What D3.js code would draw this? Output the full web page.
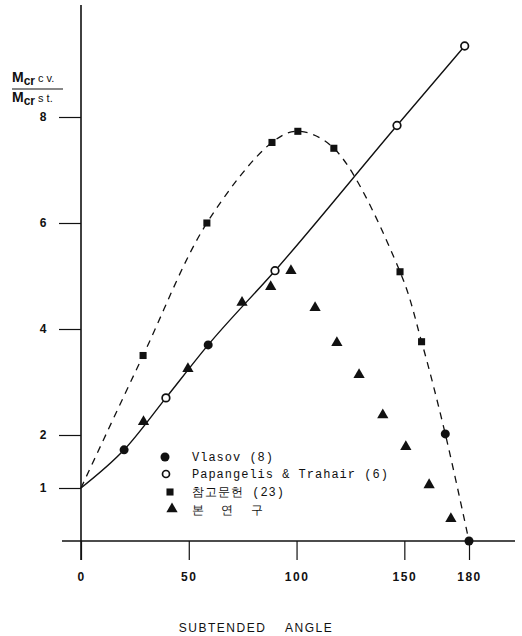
<!DOCTYPE html>
<html>
<head>
<meta charset="utf-8">
<script src="https://cdn.jsdelivr.net/npm/d3@7"></script>
<style>
    body { margin: 0; background: #fff; }
    svg { display: block; }
    .tick text { font-family: "Liberation Sans", Arial, sans-serif; font-weight: bold; font-size: 12px; fill: #111; }
    .legend text { font-family: "Liberation Mono", "DejaVu Sans Mono", monospace; font-size: 12px; fill: #111; }
</style>
</head>
<body>
<div id="chart"></div>
<script>

// ---- data ----
let xTicks = [0, 50, 100, 150, 180];
let yTicks = [1, 2, 4, 6, 8];

// solid curve (Vlasov / Papangelis & Trahair)
let solidAngle = [0, 20, 39.4, 59, 90, 146.6, 178];
let solidValue = [1, 1.72, 2.7, 3.7, 5.1, 7.84, 9.34];

// dashed curve (reference 23)
let dashAngle = [0, 28.8, 58.4, 88.6, 100.6, 117.3, 148, 158, 169, 180];
let dashValue = [1, 3.5, 6.0, 7.52, 7.73, 7.41, 5.08, 3.76, 2.02, 0];

let vlasovAngle = [20, 59, 169, 180];
let vlasovValue = [1.72, 3.7, 2.02, 0];

let papAngle = [39.4, 90, 146.6, 178];
let papValue = [2.7, 5.1, 7.84, 9.34];

let refAngle = [28.8, 58.4, 88.6, 100.6, 117.3, 148, 158];
let refValue = [3.5, 6.0, 7.52, 7.73, 7.41, 5.08, 3.76];

let studyAngle = [29, 49.6, 74.7, 88, 97.4, 108.6, 118.7, 129, 140, 150.7, 161.5, 171.6];
let studyValue = [2.23, 3.23, 4.48, 4.78, 5.08, 4.38, 3.72, 3.12, 2.36, 1.76, 1.04, 0.40];

let legendLabels = ["Vlasov (8)", "Papangelis & Trahair (6)", "참고문헌 (23)", "본  연  구"];

// ---- drawing ----
let width = 522, height = 636;

let svg = d3.select("#chart").append("svg")
    .attr("width", width)
    .attr("height", height);

let x = d3.scaleLinear().domain([0, 180]).range([81, 469]);
let y = d3.scaleLinear().domain([0, 8]).range([541, 117]);

let zip = (a, b) => a.map((d, i) => [d, b[i]]);

// axes lines
svg.append("line")
    .attr("x1", 62).attr("x2", 515)
    .attr("y1", y(0)).attr("y2", y(0))
    .attr("stroke", "#111").attr("stroke-width", 1.6);

svg.append("line")
    .attr("x1", x(0)).attr("x2", x(0))
    .attr("y1", 5).attr("y2", 560)
    .attr("stroke", "#111").attr("stroke-width", 1.6);

// y ticks
let yAxis = svg.append("g")
    .attr("transform", `translate(${x(0)},0)`)
    .call(d3.axisLeft(y).tickValues(yTicks).tickSize(22).tickPadding(0).tickFormat(d3.format("d")));
yAxis.select(".domain").remove();
yAxis.selectAll(".tick line").attr("stroke", "#111").attr("stroke-width", 1.2);
yAxis.selectAll(".tick text").attr("x", -38).attr("text-anchor", "middle");

// x ticks
let xAxis = svg.append("g")
    .attr("transform", `translate(0,${y(0)})`)
    .call(d3.axisBottom(x).tickValues(xTicks).tickSize(19).tickPadding(0).tickFormat(d3.format("d")));
xAxis.select(".domain").remove();
xAxis.selectAll(".tick line").attr("stroke", "#111").attr("stroke-width", 1.2);
xAxis.selectAll(".tick text").attr("y", 36).attr("dy", "0.32em").style("letter-spacing", "1.5px");

// curves
let line = d3.line()
    .x(d => x(d[0]))
    .y(d => y(d[1]));

svg.append("path")
    .datum(zip(solidAngle, solidValue))
    .attr("d", line.curve(d3.curveMonotoneX))
    .attr("fill", "none")
    .attr("stroke", "#111")
    .attr("stroke-width", 1.4);

svg.append("path")
    .datum(zip(dashAngle, dashValue))
    .attr("d", line.curve(d3.curveCatmullRom.alpha(0.5)))
    .attr("fill", "none")
    .attr("stroke", "#111")
    .attr("stroke-width", 1.3)
    .attr("stroke-dasharray", "7,6");

// markers
let tri = d3.symbol().type(d3.symbolTriangle).size(55);
let sq = d3.symbol().type(d3.symbolSquare).size(50);

svg.append("g").selectAll("path")
    .data(zip(studyAngle, studyValue))
    .enter().append("path")
    .attr("d", tri)
    .attr("transform", d => `translate(${x(d[0])},${y(d[1]) - 1})`)
    .attr("fill", "#111");

svg.append("g").selectAll("path")
    .data(zip(refAngle, refValue))
    .enter().append("path")
    .attr("d", sq)
    .attr("transform", d => `translate(${x(d[0])},${y(d[1])})`)
    .attr("fill", "#111");

svg.append("g").selectAll("circle")
    .data(zip(vlasovAngle, vlasovValue))
    .enter().append("circle")
    .attr("cx", d => x(d[0]))
    .attr("cy", d => y(d[1]))
    .attr("r", 4.5)
    .attr("fill", "#111");

svg.append("g").selectAll("circle")
    .data(zip(papAngle, papValue))
    .enter().append("circle")
    .attr("cx", d => x(d[0]))
    .attr("cy", d => y(d[1]))
    .attr("r", 3.8)
    .attr("fill", "#fff")
    .attr("stroke", "#111")
    .attr("stroke-width", 1.7);

// legend
let legend = svg.append("g").attr("class", "legend");
let rowY = [457, 474, 492, 510];

legend.selectAll("text")
    .data(legendLabels)
    .enter().append("text")
    .attr("x", 192)
    .attr("y", (d, i) => rowY[i])
    .attr("dy", "0.35em")
    .style("letter-spacing", "1px")
    .style("white-space", "pre")
    .text(d => d);

legend.append("circle").attr("cx", 165).attr("cy", rowY[0]).attr("r", 4.5).attr("fill", "#111");
legend.append("circle").attr("cx", 166).attr("cy", rowY[1]).attr("r", 3.5)
    .attr("fill", "#fff").attr("stroke", "#111").attr("stroke-width", 1.7);
legend.append("path").attr("d", sq).attr("transform", `translate(170,${rowY[2]})`).attr("fill", "#111");
legend.append("path").attr("d", tri).attr("transform", `translate(172,${rowY[3] - 1})`).attr("fill", "#111");

// y label (fraction)
let ylab = svg.append("g")
    .style("font-family", "'Liberation Sans', Arial, sans-serif")
    .style("font-weight", "bold")
    .attr("fill", "#111");

let numer = ylab.append("text").attr("x", 12).attr("y", 82).style("font-size", "14px");
numer.append("tspan").text("M");
numer.append("tspan").attr("dy", 3).style("font-size", "12px").text("cr");
numer.append("tspan").attr("dy", -3).style("font-size", "11px").style("font-weight", "normal").attr("dx", 3).text("c v.");

ylab.append("line").attr("x1", 12).attr("x2", 63).attr("y1", 89).attr("y2", 89)
    .attr("stroke", "#111").attr("stroke-width", 1.2);

let denom = ylab.append("text").attr("x", 12).attr("y", 102).style("font-size", "14px");
denom.append("tspan").text("M");
denom.append("tspan").attr("dy", 3).style("font-size", "12px").text("cr");
denom.append("tspan").attr("dy", -3).style("font-size", "11px").style("font-weight", "normal").attr("dx", 3).text("s t.");

// x title
svg.append("text")
    .attr("x", 256)
    .attr("y", 628)
    .attr("dy", "0.35em")
    .attr("text-anchor", "middle")
    .style("font-family", "'Liberation Sans', Arial, sans-serif")
    .style("font-size", "12px")
    .style("letter-spacing", "1.5px")
    .style("white-space", "pre")
    .attr("fill", "#111")
    .text("SUBTENDED    ANGLE");

</script>
</body>
</html>
